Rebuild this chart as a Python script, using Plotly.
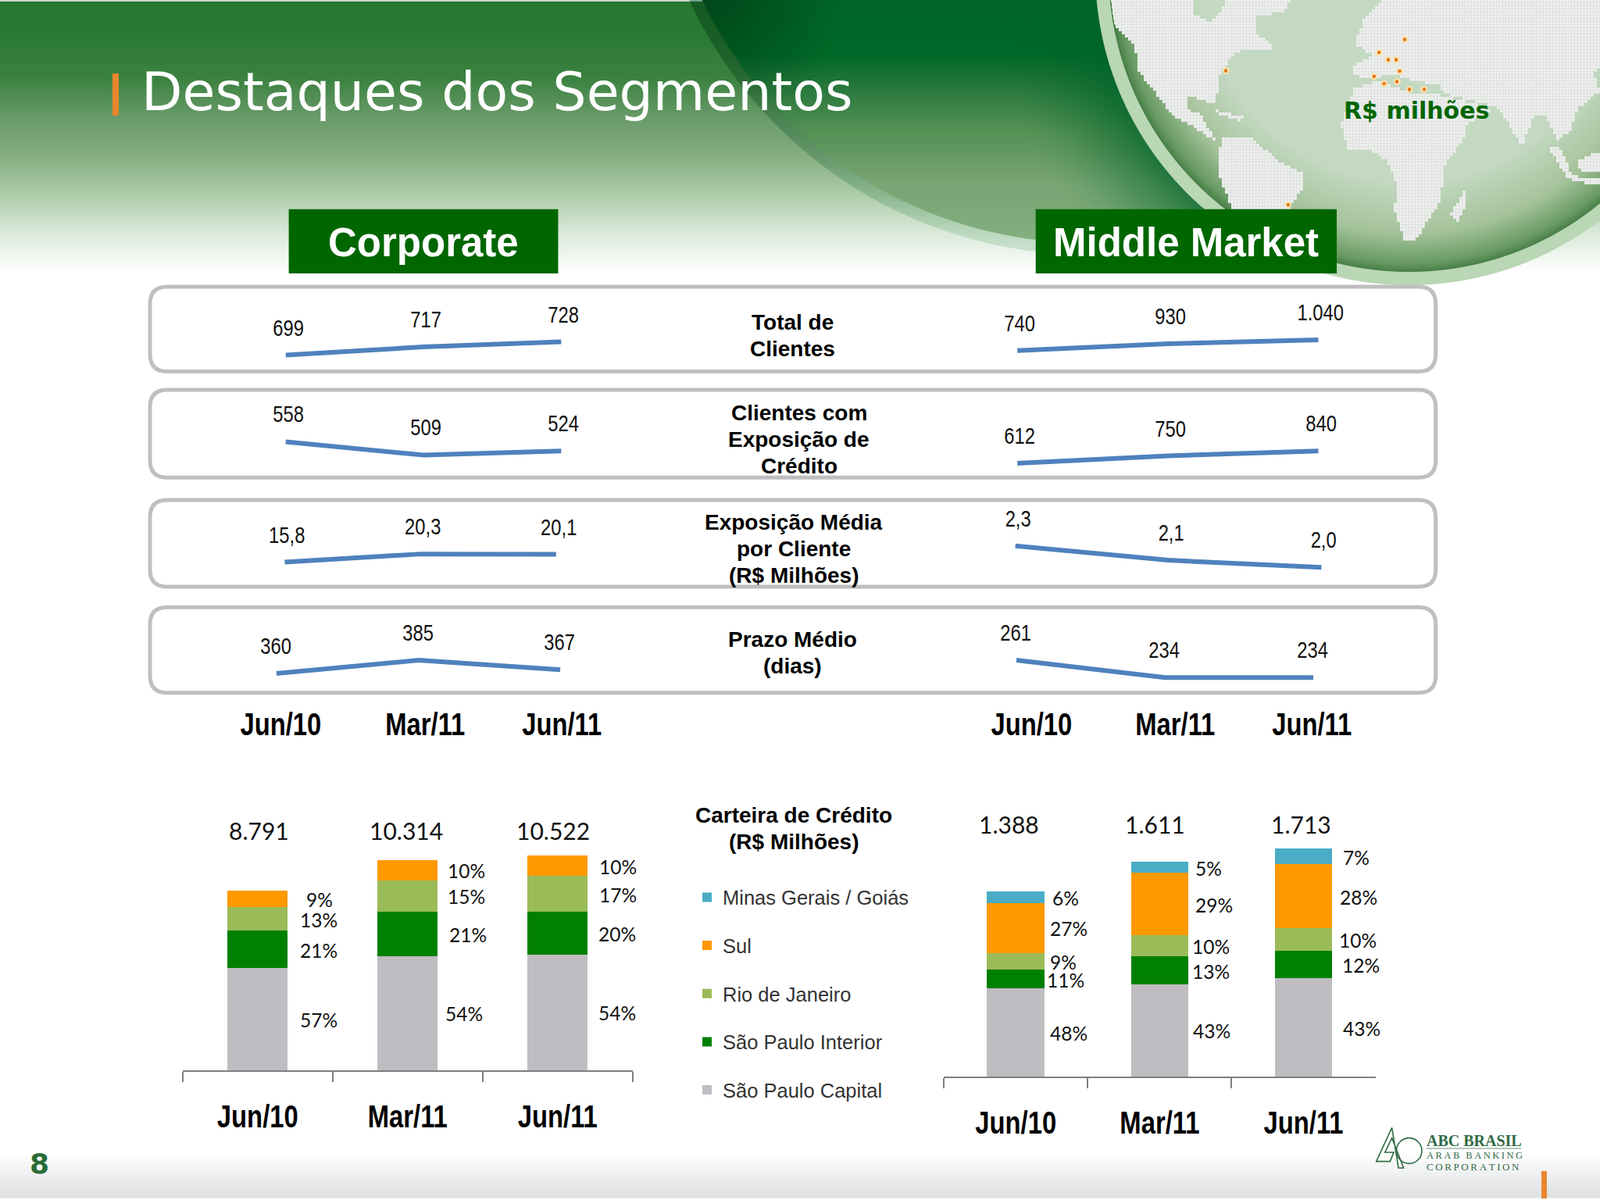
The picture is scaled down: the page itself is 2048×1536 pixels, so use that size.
import base64
import struct
import zlib

import numpy as np
import plotly.graph_objects as go

# ---- data ----
months = ["Jun/10", "Mar/11", "Jun/11"]

corp_total_clientes = [699, 717, 728]
corp_com_exposicao = [558, 509, 524]
corp_exposicao_media = [15.8, 20.3, 20.1]
corp_prazo_medio = [360, 385, 367]

mm_total_clientes = [740, 930, 1040]
mm_com_exposicao = [612, 750, 840]
mm_exposicao_media = [2.3, 2.1, 2.0]
mm_prazo_medio = [261, 234, 234]

regions = ["São Paulo Capital", "São Paulo Interior", "Rio de Janeiro", "Sul", "Minas Gerais / Goiás"]

corp_totals = [8791, 10314, 10522]
corp_capital = [5010, 5600, 5680]
corp_interior = [1850, 2180, 2100]
corp_rio = [1140, 1534, 1750]
corp_sul = [791, 1000, 992]
corp_pct = [["57%", "54%", "54%"], ["21%", "21%", "20%"], ["13%", "15%", "17%"], ["9%", "10%", "10%"]]

mm_totals = [1388, 1611, 1713]
mm_capital = [660, 692, 737]
mm_interior = [146, 209, 206]
mm_rio = [123, 161, 171]
mm_sul = [376, 467, 479]
mm_minas = [83, 82, 120]
mm_pct = [["48%", "43%", "43%"], ["11%", "13%", "12%"], ["9%", "10%", "10%"],
          ["27%", "29%", "28%"], ["6%", "5%", "7%"]]

# ---- look ----
W, H = 2048, 1536
K = W / 1568  # positions below were measured on a 1568 wide copy
GREEN = "#006600"
BAR_COLORS = ["#BFBDC1", "#008000", "#9BBB59", "#FF9900", "#4BACC6"]
LINE_BLUE = "#4F81BD"
NARROW = "Liberation Sans Narrow, Liberation Sans"  # squeezed in post_script, the narrow cut is not installed
SANS = "Liberation Sans"
BARFONT = "Lato"


def px(v):
    return v * K


def paper_x(x):
    return x / W


def paper_y(y):
    return 1 - y / H


# ---- page background (gradient header, swoosh and dotted globe) ----
def stops(values, table):
    ys = [t[0] for t in table]
    return np.stack([np.interp(values, ys, [t[1][c] for t in table]) for c in range(3)], axis=-1)


def blend(img, alpha, col):
    a = alpha[..., None]
    return img * (1 - a) + col * a


def in_poly(xs, ys, poly):
    inside = np.zeros(xs.shape, bool)
    n = len(poly)
    for i in range(n):
        x1, y1 = poly[i]
        x2, y2 = poly[(i + 1) % n]
        if y1 == y2:
            continue
        cross = ((y1 > ys) != (y2 > ys)) & (xs < (x2 - x1) * (ys - y1) / (y2 - y1) + x1)
        inside ^= cross
    return inside


LAND = [
    [(90, 0), (350, 0), (345, 50), (400, 90), (435, 30), (440, 0), (640, 0), (620, 50), (530, 60), (540, 130),
     (595, 185), (540, 190), (470, 200), (440, 260), (420, 300), (420, 345), (410, 400), (330, 365), (330, 420),
     (370, 440), (385, 480), (420, 545), (395, 530), (350, 490), (290, 450), (240, 370), (180, 270), (170, 170),
     (100, 90)],
    [(430, 530), (525, 530), (600, 620), (680, 670), (680, 710), (640, 790), (620, 830), (470, 830), (425, 680),
     (425, 600)],
    [(400, 420), (495, 450), (490, 465), (430, 440)],
    [(920, 0), (1568, 0), (1568, 250), (1550, 290), (1568, 350), (1500, 420), (1480, 500), (1440, 540), (1400, 440),
     (1370, 440), (1335, 565), (1300, 490), (1260, 410), (1100, 360), (1085, 325), (1000, 310), (950, 285),
     (880, 300), (825, 290), (825, 250), (890, 215), (830, 170), (860, 70)],
    [(790, 480), (830, 340), (900, 312), (1000, 355), (1090, 365), (1250, 420), (1170, 480), (1160, 530), (1100, 640),
     (1090, 770), (1040, 870), (1010, 930), (980, 930), (950, 800), (960, 720), (930, 620), (880, 580), (810, 570)],
    [(1120, 820), (1160, 735), (1168, 780), (1138, 855)],
    [(1415, 570), (1450, 570), (1485, 675), (1568, 690), (1568, 715), (1470, 685)],
    [(1500, 620), (1568, 580), (1568, 655), (1510, 655)],
]
PINS = [(980, 150), (903, 200), (930, 228), (955, 228), (965, 272), (888, 292), (918, 320), (957, 312),
        (994, 342), (1038, 342), (443, 270), (630, 785)]


def background():
    yy, xx = np.mgrid[0:H, 0:W].astype(float)
    img = stops(yy, [(0, (38, 120, 50)), (33, (38, 120, 50)), (100, (60, 130, 65)), (150, (105, 155, 105)),
                     (200, (135, 175, 130)), (250, (175, 205, 170)), (300, (220, 235, 220)), (347, (255, 255, 255)),
                     (1476, (255, 255, 255)), (1532, (222, 224, 226)), (1534, (255, 255, 255))])
    img[:2] = (205, 215, 205)

    # swoosh
    r1 = np.hypot(xx - 1392, yy + 237)
    rg = np.hypot(xx - 1803, yy + 37)
    fac = stops(yy, [(0, (0.55, 0.75, 0.7)), (300, (0.86, 0.93, 0.88))])
    img = blend(img, np.clip(563 - r1, 0, 1), img * fac)
    inner = stops(yy, [(0, (0, 100, 40)), (70, (0, 105, 40)), (100, (30, 115, 55)), (167, (85, 145, 85)),
                       (233, (120, 165, 115)), (300, (130, 175, 125))])
    w = (1 - np.clip((rg - 402) / 130, 0, 1)) ** 1.5 * 0.7
    inner = blend(inner, w, np.array([0, 100, 40.0]))
    w = np.clip(1 - np.hypot(xx - 905, yy) / 170, 0, 1) * 0.7
    inner = blend(inner, w, np.array([0, 60, 20.0]))
    img = blend(img, np.clip(548 - r1, 0, 1), inner)

    # globe rim and ocean
    img = blend(img, np.clip(402 - rg, 0, 1), np.array([185, 215, 180.0]))
    ocean = stops(rg / 385, [(0.7, (195, 217, 193)), (0.87, (165, 195, 155)), (0.97, (105, 155, 100)),
                             (1.0, (70, 125, 70))])
    img = blend(img, np.clip(385 - rg, 0, 1), ocean)

    # dotted land on a 4 px grid
    cx = np.floor(xx / 4) * 4 + 2
    cy = np.floor(yy / 4) * 4 + 2
    land = np.zeros(xx.shape, bool)
    box = yy < 360
    for poly in LAND:
        pts = [(1380 + x / 2.347, y / 3) for x, y in poly]
        land[box] |= in_poly(cx[box], cy[box], pts)
    land &= rg < 383
    grid = (xx % 4 >= 3) | (yy % 4 >= 3)
    img[land & ~grid] = (238, 238, 238)
    img[land & grid] = (222, 227, 222)

    for x, y in PINS:
        d = np.hypot(xx - (1380 + x / 2.347), yy - y / 3)
        img[d < 4.5] = (250, 225, 175)
        img[d < 2.2] = (225, 120, 30)

    arr = np.clip(img, 0, 255).astype(np.uint8)
    raw = b"".join(b"\x00" + row.tobytes() for row in arr)

    def chunk(tag, body):
        return struct.pack(">I", len(body)) + tag + body + struct.pack(">I", zlib.crc32(tag + body))

    png = (b"\x89PNG\r\n\x1a\n" + chunk(b"IHDR", struct.pack(">IIBBBBB", W, H, 8, 2, 0, 0, 0))
           + chunk(b"IDAT", zlib.compress(raw, 9)) + chunk(b"IEND", b""))
    return "data:image/png;base64," + base64.b64encode(png).decode()


# ---- figure ----
fig = go.Figure()
layout_axes = {}
shapes = []
notes = []


def note(text, x, y, size, family=SANS, color="#000000", weight=400, anchor="center"):
    notes.append(dict(text=text, x=paper_x(x), y=paper_y(y), xref="paper", yref="paper", showarrow=False,
                      xanchor=anchor, yanchor="middle", font=dict(size=size, family=family, color=color, weight=weight)))


def fmt(v):
    if isinstance(v, float):
        return f"{v:.1f}".replace(".", ",")
    return f"{v:,}".replace(",", ".")


def rounded_box(x0, y0, x1, y1, r):
    p = lambda x, y: f"{paper_x(x)},{paper_y(y)}"
    return (f"M{p(x0 + r, y0)} L{p(x1 - r, y0)} Q{p(x1, y0)} {p(x1, y0 + r)} L{p(x1, y1 - r)} Q{p(x1, y1)} {p(x1 - r, y1)} "
            f"L{p(x0 + r, y1)} Q{p(x0, y1)} {p(x0, y1 - r)} L{p(x0, y0 + r)} Q{p(x0, y0)} {p(x0 + r, y0)} Z")


# rows: top, bottom of the rounded panels, then the series with first/last point x and y range per chart
panel_rows = [(281, 364), (382, 468), (490, 575), (595, 679)]
line_charts = [
    (0, corp_total_clientes, 280, 550, (663.3, 848.5)),
    (1, corp_com_exposicao, 280, 550, (426, 750)),
    (2, corp_exposicao_media, 279, 545, (2.3, 50)),
    (3, corp_prazo_medio, 271, 549, (323.5, 485)),
    (0, mm_total_clientes, 997, 1292, (154, 2526)),
    (1, mm_com_exposicao, 997, 1292, (346, 1981)),
    (2, mm_exposicao_media, 995, 1295, (1.73, 2.94)),
    (3, mm_prazo_medio, 996, 1287, (210, 343.5)),
]

for top, bottom in panel_rows:
    shapes.append(dict(type="path", path=rounded_box(px(147), px(top), px(1407), px(bottom), 22), xref="paper",
                       yref="paper", fillcolor="white", line=dict(color="#BFBFBF", width=5), layer="below"))

n = 0
for row, values, first, last, yrange in line_charts:
    n += 1
    step = (last - first) / 2
    top, bottom = panel_rows[row]
    layout_axes[f"xaxis{n}"] = dict(domain=[paper_x(px(first - step / 2)), paper_x(px(last + step / 2))], visible=False,
                                    type="category", range=[-0.5, 2.5], anchor=f"y{n}")
    layout_axes[f"yaxis{n}"] = dict(domain=[paper_y(px(bottom)), paper_y(px(top))], visible=False, range=list(yrange),
                                    anchor=f"x{n}")
    fig.add_trace(go.Scatter(x=months, y=values, mode="lines", line=dict(color=LINE_BLUE, width=6), showlegend=False,
                             xaxis=f"x{n}", yaxis=f"y{n}"))
    for i, v in enumerate(values):
        notes.append(dict(text=fmt(v), x=i, y=v, xref=f"x{n}", yref=f"y{n}", showarrow=False,
                          xshift=-1 if row == 3 else 3, yshift=35,
                          font=dict(size=29, family=NARROW, color="#111111")))


def stacked(n, left, right, base, top, ymax, series, pct, names_shown, x_nudge):
    layout_axes[f"xaxis{n}"] = dict(
        domain=[paper_x(px(left)), paper_x(px(right))], type="category", range=[-0.5, 2.5], anchor=f"y{n}",
        showline=True, linecolor="#7F7F7F", linewidth=2, ticks="outside", tickson="boundaries", ticklen=13,
        tickcolor="#7F7F7F", tickwidth=2, showgrid=False, zeroline=False, ticklabelstandoff=23,
        tickfont=dict(size=40, family=NARROW, color="#000000", weight=700))
    layout_axes[f"yaxis{n}"] = dict(domain=[paper_y(px(base)), paper_y(px(top))], visible=False, range=[0, ymax],
                                    anchor=f"x{n}", showgrid=False, zeroline=False)
    bottoms = [0, 0, 0]
    for s, vals in enumerate(series):
        fig.add_trace(go.Bar(x=months, y=vals, name=regions[s], marker=dict(color=BAR_COLORS[s], line=dict(width=0)),
                             width=0.4, legendgroup=regions[s], legendrank=10 - s, showlegend=s in names_shown,
                             xaxis=f"x{n}", yaxis=f"y{n}"))
        for i, v in enumerate(vals):
            notes.append(dict(text=pct[s][i], x=i, y=bottoms[i] + v / 2, xref=f"x{n}", yref=f"y{n}", showarrow=False,
                              xshift=x_nudge[s][i], yshift=-1, font=dict(size=24.5, family=BARFONT, color="#111111")))
            bottoms[i] += v


stacked(9, 179, 620, 1049, 800, 12450, [corp_capital, corp_interior, corp_rio, corp_sul], corp_pct, (0, 1, 2, 3),
        [[78, 72, 76], [78, 77, 76], [78, 75, 77], [79, 75, 77]])
stacked(10, 925, 1348, 1055, 800, 1954, [mm_capital, mm_interior, mm_rio, mm_sul, mm_minas], mm_pct, (4,),
        [[68, 67, 74], [64, 66, 73], [61, 66, 69], [68, 70, 70], [64, 63, 67]])

for v, x in zip(corp_totals, (254, 398, 542)):
    note(fmt(v), px(x), px(813.5), 30, BARFONT, "#111111")
for v, x in zip(mm_totals, (989, 1132, 1275)):
    note(fmt(v), px(x), px(808), 30, BARFONT, "#111111")

for m, x in zip(months, (275, 417, 551)):
    note(m, px(x), px(710), 40, NARROW, weight=700)
for m, x in zip(months, (1011, 1152, 1286)):
    note(m, px(x), px(710), 40, NARROW, weight=700)

# middle column titles, one line at a time because the slide has tighter leading than plotly
for x, lines in (
    (777, [("Total de", 316), ("Clientes", 342)]),
    (783, [("Clientes com", 405), ("Exposição de", 431), ("Crédito", 457)]),
    (778, [("Exposição Média", 512), ("por Cliente", 538), ("(R$ Milhões)", 564)]),
    (777, [("Prazo Médio", 627), ("(dias)", 653)]),
    (778, [("Carteira de Crédito", 799), ("(R$ Milhões)", 825)]),
):
    for text, y in lines:
        note(text, px(x), px(y), 28, weight=700)

# header
note("Destaques dos Segmentos", px(137), px(90), 68.2, "DejaVu Sans", "#FFFFFF", anchor="left")
note("R$ milhões", px(1388), px(108), 30, "DejaVu Sans", GREEN, 700)
for x0, x1, label in ((283, 547, "Corporate"), (1015, 1310, "Middle Market")):
    shapes.append(dict(type="rect", x0=paper_x(px(x0)), x1=paper_x(px(x1)), y0=paper_y(px(205)), y1=paper_y(px(268)),
                       xref="paper", yref="paper", fillcolor=GREEN, line=dict(width=0), layer="below"))
    note(label, px((x0 + x1) / 2), px(238), 51, SANS, "#FFFFFF", 700)
shapes.append(dict(type="rect", x0=paper_x(144), x1=paper_x(152), y0=paper_y(94), y1=paper_y(148), xref="paper",
                   yref="paper", fillcolor="#E8862E", line=dict(width=0), layer="below"))

# footer
note("8", 50, 1489, 36, "DejaVu Sans", "#2A6B35", 700)
shapes.append(dict(type="rect", x0=paper_x(1973), x1=paper_x(1980), y0=paper_y(1499), y1=paper_y(1534), xref="paper",
                   yref="paper", fillcolor="#E8862E", line=dict(width=0), layer="below"))
LOGO = "#2F6B45"
note("ABC BRASIL", 1824, 1460, 20, "Liberation Serif", LOGO, 700, "left")
note("\u2009".join("ARAB BANKING"), 1824, 1479, 12.5, "Liberation Serif", LOGO, 400, "left")
note("\u2009".join("CORPORATION"), 1824, 1493, 13, "Liberation Serif", LOGO, 400, "left")
shapes.append(dict(type="line", x0=paper_x(1826), x1=paper_x(1947), y0=paper_y(1470), y1=paper_y(1470), xref="paper",
                   yref="paper", line=dict(color="#9DB5A3", width=1.5)))
lx = lambda x: paper_x(1740 + x / 3)
ly = lambda y: paper_y(1430 + y / 3)
logo_a = [(125, 40), (65, 170), (118, 170), (132, 135), (98, 135), (125, 80), (170, 195), (150, 195), (125, 40)]
shapes.append(dict(type="path", xref="paper", yref="paper", line=dict(color=LOGO, width=1.6),
                   path="M" + " L".join(f"{lx(x)},{ly(y)}" for x, y in logo_a)))
shapes.append(dict(type="circle", xref="paper", yref="paper", x0=lx(142), x1=lx(240), y0=ly(80), y1=ly(178),
                   line=dict(color=LOGO, width=1.6)))

fig.update_layout(
    width=W, height=H, margin=dict(l=0, r=0, t=0, b=0), paper_bgcolor="white", plot_bgcolor="rgba(0,0,0,0)",
    barmode="stack", annotations=notes, shapes=shapes,
    images=[dict(source=background(), xref="paper", yref="paper", x=0, y=1, sizex=1, sizey=1, xanchor="left",
                 yanchor="top", sizing="stretch", layer="below")],
    legend=dict(x=paper_x(885), y=paper_y(px(880) - 24), xanchor="left", yanchor="top", bgcolor="rgba(0,0,0,0)",
                traceorder="grouped", tracegroupgap=25.5, font=dict(size=25.5, family=SANS, color="#333333")),
    **layout_axes,
)

# no narrow font on the machine: squeeze those labels sideways around their centre
SQUEEZE = """
document.body.style.margin='0';document.body.style.overflow='hidden';
setTimeout(function(){
  document.querySelectorAll('text').forEach(function(t){
    if(t.style.fontFamily.indexOf('Narrow')<0) return;
    var b=t.getBBox(), c=b.x+b.width/2, old=t.getAttribute('transform')||'';
    t.setAttribute('transform', old+' translate('+c+',0) scale(0.82,1) translate('+(-c)+',0)');
  });
},50);
"""
fig.write_html("out.html", config={"displayModeBar": False}, post_script=SQUEEZE)
